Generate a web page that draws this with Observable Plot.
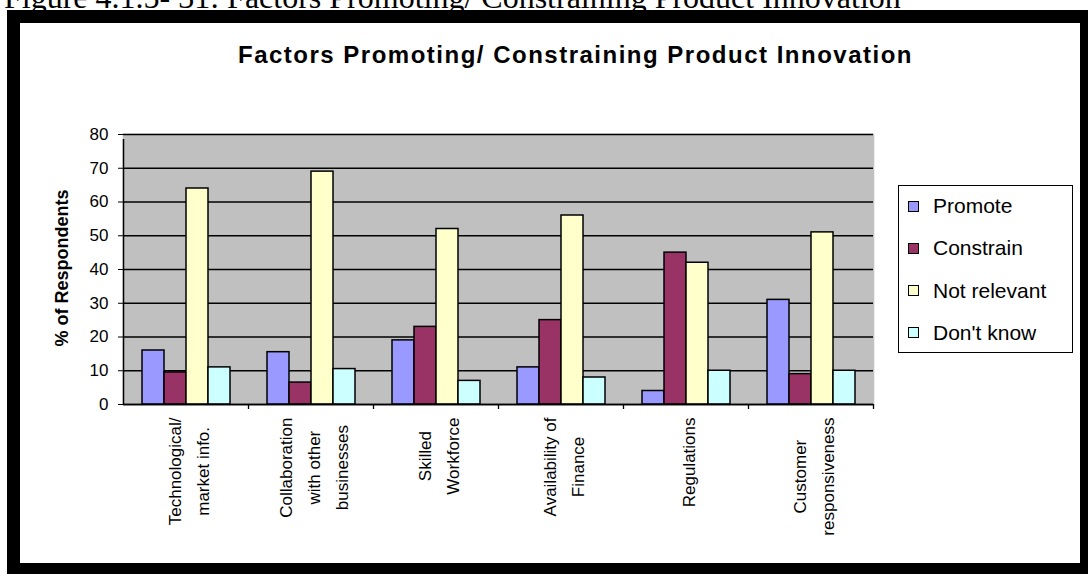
<!DOCTYPE html>
<html><head><meta charset="utf-8">
<script src="https://cdn.jsdelivr.net/npm/d3@7"></script>
<script src="https://cdn.jsdelivr.net/npm/@observablehq/plot@0.6"></script>
<style>
html,body{margin:0;padding:0;background:#fff;}
#page{position:relative;width:1090px;height:574px;overflow:hidden;background:#fff;font-family:"Liberation Sans",Arial,sans-serif;color:#000;}
#caption{position:absolute;left:4px;top:-19px;font-family:"Liberation Serif","Times New Roman",serif;font-size:32px;line-height:1;white-space:nowrap;}
#frame{position:absolute;left:7px;top:10px;width:1081px;height:564px;box-sizing:border-box;border-style:solid;border-color:#000;border-width:13px 8px 11px 13px;}
#title{position:absolute;left:238px;top:43px;font-size:24px;font-weight:bold;line-height:1;letter-spacing:1.5px;white-space:nowrap;}
#chart{position:absolute;left:0;top:0;}
#ylabel{position:absolute;left:62px;top:268px;transform:translate(-50%,-50%) rotate(-90deg);font-size:18px;font-weight:bold;white-space:nowrap;}
#legend{position:absolute;left:898px;top:185px;width:175px;height:168px;box-sizing:border-box;border:1.5px solid #000;background:#fff;}
.item{position:absolute;left:9px;height:24px;display:flex;align-items:center;font-size:21px;white-space:nowrap;}
.sw{width:9px;height:9px;border:1px solid #000;margin-right:14px;}
</style>
</head><body>
<div id="page">
  <div id="frame"></div>
  <div id="caption">Figure 4.1.5- 31: Factors Promoting/ Constraining Product Innovation</div>
  <div id="title">Factors Promoting/ Constraining Product Innovation</div>
  <div id="chart"></div>
  <div id="ylabel">% of Respondents</div>
  <div id="legend"></div>
</div>
<script>
// ---- data ----
const categories = ["Technological/ market info.", "Collaboration with other businesses", "Skilled Workforce", "Availability of Finance", "Regulations", "Customer responsiveness"];
const tickLabels = ["Technological/\nmarket info.", "Collaboration\nwith other\nbusinesses", "Skilled\nWorkforce", "Availability of\nFinance", "Regulations", "Customer\nresponsiveness"];
const series = ["Promote", "Constrain", "Not relevant", "Don't know"];
const promote     = [16, 15.5, 19, 11, 4, 31];
const constrain   = [9.5, 6.5, 23, 25, 45, 9];
const notRelevant = [64, 69, 52, 56, 42, 51];
const dontKnow    = [11, 10.5, 7, 8, 10, 10];
const colors = ["#9999ff", "#993366", "#ffffcc", "#ccffff"];
const yTicks = [0, 10, 20, 30, 40, 50, 60, 70, 80];

const valuesBySeries = [promote, constrain, notRelevant, dontKnow];
const rows = categories.flatMap((c, i) => series.map((s, j) => ({category: c, series: s, value: valuesBySeries[j][i]})));
const labelOf = new Map(categories.map((c, i) => [c, tickLabels[i]]));

const W = 890, H = 560, mL = 123, mR = 17, mT = 134, mB = 156;
const facetW = (W - mL - mR) / categories.length;
const yMax = yTicks[yTicks.length - 1];

const plot = Plot.plot({
  width: W, height: H,
  marginLeft: mL, marginRight: mR, marginTop: mT, marginBottom: mB,
  style: {fontFamily: "'Liberation Sans', Arial, sans-serif", fontSize: "17px", background: "transparent", overflow: "visible", color: "#000"},
  fx: {domain: categories, padding: 0, axis: null, label: null},
  x: {domain: series, paddingInner: 0, paddingOuter: 0.72, axis: null, label: null},
  y: {domain: [0, yMax], axis: null, label: null},
  color: {domain: series, range: colors},
  marks: [
    Plot.frame({fill: "#c0c0c0", stroke: "#c0c0c0", strokeWidth: 1.5}),
    Plot.gridY({ticks: yTicks, stroke: "#000", strokeOpacity: 1, strokeWidth: 1.3}),
    Plot.barY(rows, {fx: "category", x: "series", y: "value", fill: "series", stroke: "#000", strokeWidth: 1.5}),
    Plot.ruleY([0], {stroke: "#000", strokeWidth: 1.5}),
    Plot.ruleX([categories[0]], {fx: d => d, x: null, y1: () => 0, y2: () => yMax, insetBottom: -5, dx: -facetW / 2, stroke: "#000", strokeWidth: 1.5}),
    Plot.ruleX(categories, {fx: d => d, x: null, y1: () => 0, y2: () => 0, insetBottom: -5, dx: facetW / 2, stroke: "#000", strokeWidth: 1.3}),
    Plot.axisY({ticks: yTicks, tickSize: 5, tickPadding: 10, fontSize: 17, label: null, stroke: "#000"}),
    Plot.axisFx({anchor: "bottom", tickSize: 0, tickPadding: 13, tickRotate: -90, textAnchor: "end", lineAnchor: "middle", lineHeight: 1.65, fontSize: 17, label: null, tickFormat: d => labelOf.get(d)})
  ]
});
document.getElementById("chart").appendChild(plot);

// center the lines of each multi-line category label inside its block
plot.querySelectorAll('g[aria-label="fx-axis tick label"] text').forEach(t => {
  const spans = t.querySelectorAll("tspan");
  if (spans.length < 2) return;
  let maxLen = 0;
  spans.forEach(s => { maxLen = Math.max(maxLen, s.getComputedTextLength()); });
  t.setAttribute("text-anchor", "middle");
  spans.forEach(s => s.setAttribute("x", -maxLen / 2));
});

// legend from the plot's color scale
const color = plot.scale("color");
const legend = document.getElementById("legend");
color.domain.forEach((s, i) => {
  const item = document.createElement("div");
  item.className = "item";
  item.style.top = (8 + i * 42.3) + "px";
  const sw = document.createElement("div");
  sw.className = "sw";
  sw.style.background = color.range[i];
  const tx = document.createElement("span");
  tx.textContent = s;
  item.appendChild(sw); item.appendChild(tx);
  legend.appendChild(item);
});
</script>
</body></html>
